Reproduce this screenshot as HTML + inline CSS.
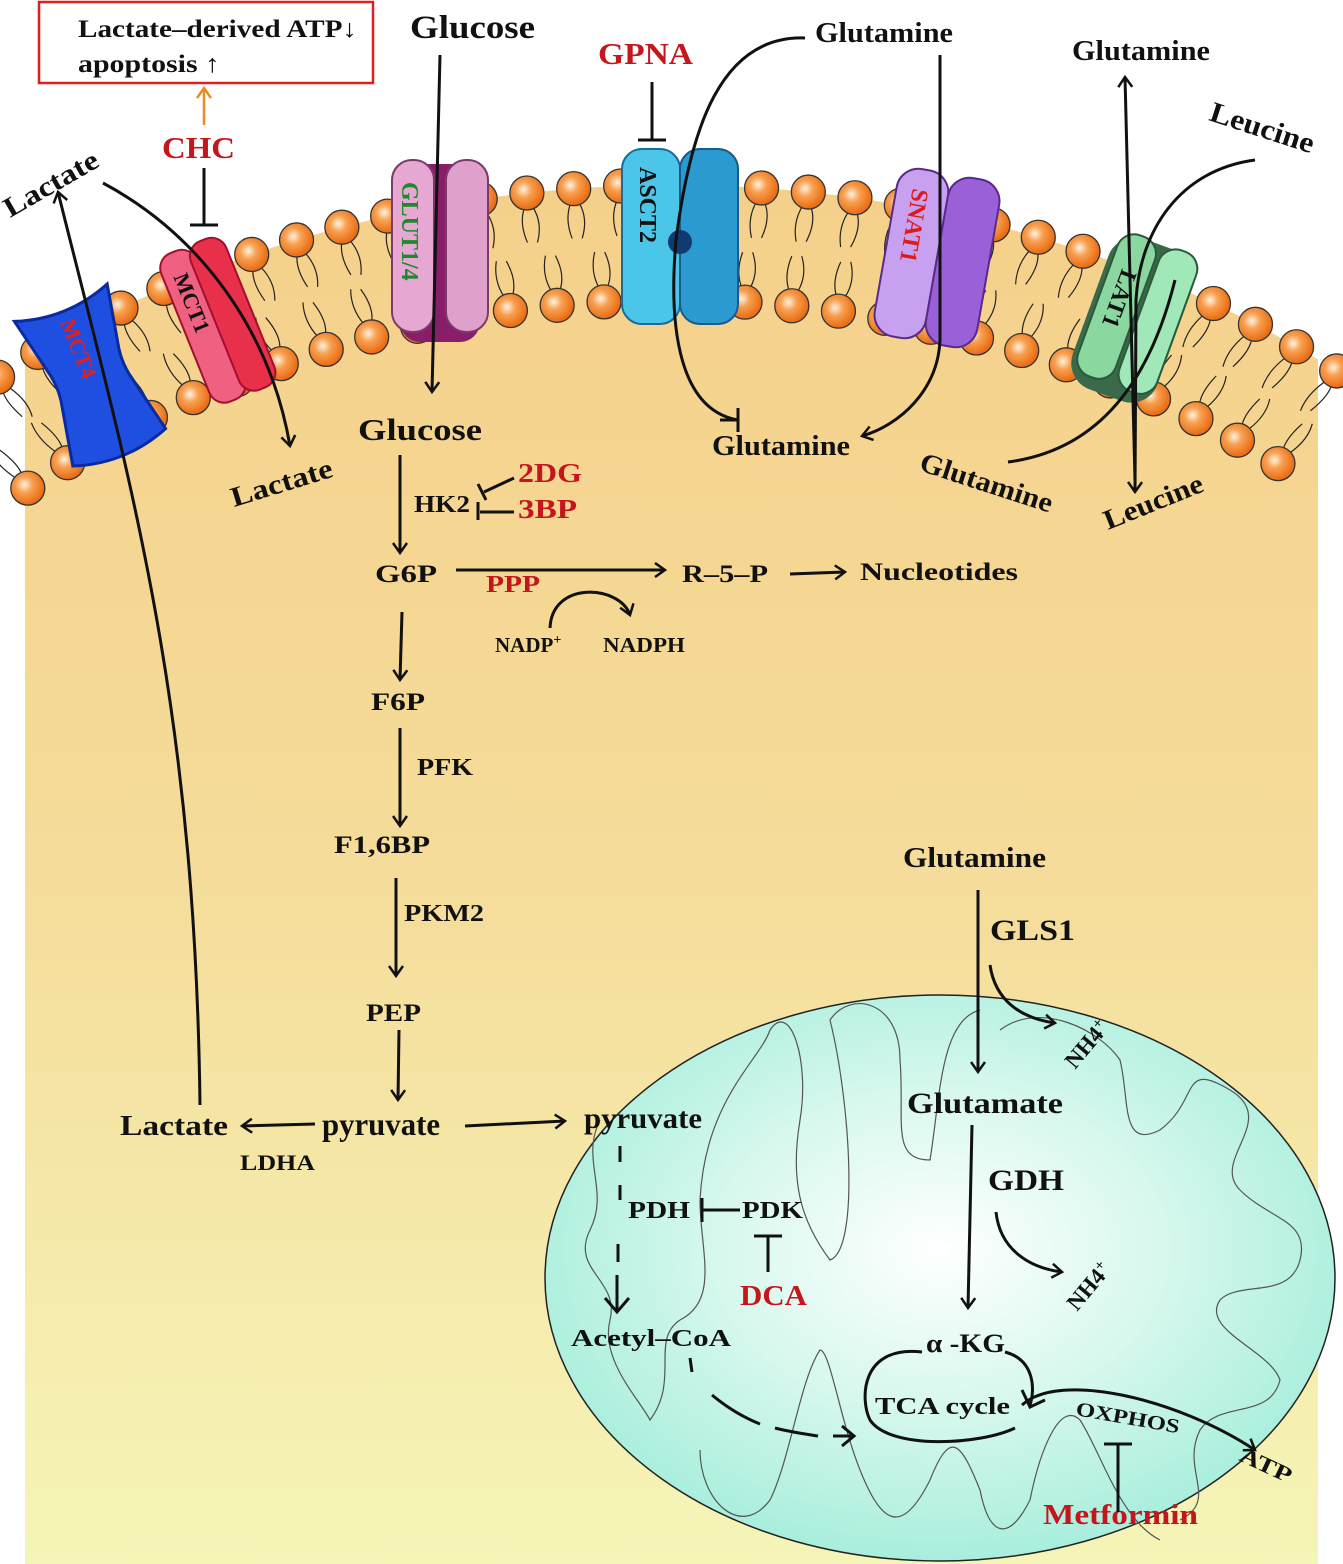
<!DOCTYPE html>
<html><head><meta charset="utf-8"><style>
html,body{margin:0;padding:0;background:#fff;width:1343px;height:1564px;overflow:hidden}
svg{display:block}
text{font-family:"Liberation Serif",serif;font-weight:bold;fill:#111}
.r{fill:#c4161c}
</style></head><body>
<svg id="s" width="1343" height="1564" viewBox="0 0 1343 1564" xmlns="http://www.w3.org/2000/svg">
<defs>
<linearGradient id="cell" gradientUnits="userSpaceOnUse" x1="0" y1="180" x2="0" y2="1564">
<stop offset="0" stop-color="#f5d08a"/><stop offset="0.5" stop-color="#f5dc9a"/><stop offset="1" stop-color="#f5f5b8"/></linearGradient>
<radialGradient id="mito" cx="0.5" cy="0.45" r="0.55"><stop offset="0" stop-color="#ffffff"/><stop offset="0.5" stop-color="#d8f8ee"/><stop offset="1" stop-color="#a8eedc"/></radialGradient>
<radialGradient id="ball" cx="0.4" cy="0.4" r="0.6"><stop offset="0" stop-color="#fff2e0"/><stop offset="0.4" stop-color="#f8a050"/><stop offset="1" stop-color="#e86a10"/></radialGradient>
<marker id="a" markerWidth="16" markerHeight="16" refX="11" refY="8" orient="auto" markerUnits="userSpaceOnUse"><path d="M1,1 L11,8 L1,15" fill="none" stroke="#111" stroke-width="2.5"/></marker>
<marker id="ao" markerWidth="16" markerHeight="16" refX="11" refY="8" orient="auto" markerUnits="userSpaceOnUse"><path d="M1,1 L11,8 L1,15" fill="none" stroke="#f08a20" stroke-width="2.5"/></marker>
<clipPath id="cc"><rect x="25" y="0" width="1293" height="1564"/></clipPath>
</defs>
<g clip-path="url(#cc)">
<path d="M-428,1100 A1100,915 0 0 1 1772,1100 L1772,1564 L-428,1564 Z" fill="url(#cell)"/>
</g>
<g id="mem"></g>

<!-- mitochondrion -->
<ellipse cx="940" cy="1278" rx="395" ry="283" fill="url(#mito)" stroke="#222" stroke-width="1.5"/>
<path d="M600,1120 C580,1160 610,1190 590,1230 C570,1270 620,1280 610,1320 C600,1360 640,1400 650,1420 C680,1380 650,1340 680,1320 C720,1300 700,1250 700,1200 C705,1100 760,1060 770,1030 C790,1000 810,1060 800,1120 C790,1180 800,1220 830,1260 C860,1250 850,1100 830,1020 C850,990 900,1000 900,1060 C905,1120 890,1160 930,1160 C940,1100 940,1020 980,1010 M1000,1030 C1040,1000 1100,1030 1120,1060 C1130,1100 1120,1150 1160,1130 C1200,1100 1180,1060 1230,1090 C1280,1120 1210,1160 1240,1190 C1270,1220 1310,1220 1300,1260 C1290,1300 1240,1280 1220,1300 C1200,1330 1270,1350 1280,1380 C1270,1420 1220,1400 1200,1430 C1180,1470 1220,1500 1180,1520 M1160,1540 C1120,1520 1100,1450 1080,1420 C1060,1400 1040,1450 1030,1500 C1010,1540 990,1540 980,1490 C960,1440 950,1430 930,1480 C900,1540 880,1520 860,1470 C840,1420 830,1350 820,1350 C800,1380 790,1460 770,1500 C740,1540 700,1500 700,1450" fill="none" stroke="#555" stroke-width="1.2"/>

<!-- transporters -->
<g transform="translate(90,375) rotate(-22)">
<path d="M-50,-78 Q0,-60 50,-78 L38,-20 Q33,0 38,20 L50,78 Q0,96 -50,78 L-38,20 Q-33,0 -38,-20 Z" fill="#1f4fe0" stroke="#0a2aa0" stroke-width="3"/>
<text transform="translate(-8,-60) rotate(90)" font-size="22" style="fill:#e02020">MCT4</text></g>
<g transform="translate(218,318) rotate(-22)">
<rect x="-36" y="-78" width="38" height="160" rx="16" fill="#f06080" stroke="#a01030" stroke-width="2"/>
<rect x="-4" y="-78" width="38" height="160" rx="16" fill="#e8304a" stroke="#a01030" stroke-width="2"/>
<text transform="translate(-26,-55) rotate(90)" font-size="22">MCT1</text></g>
<g transform="translate(440,252)">
<rect x="-40" y="-88" width="80" height="178" rx="20" fill="#8a1d6a"/>
<rect x="-48" y="-92" width="42" height="172" rx="20" fill="#e6a8d2" stroke="#7a3a6a" stroke-width="2"/>
<rect x="6" y="-92" width="42" height="172" rx="20" fill="#e0a0cc" stroke="#7a3a6a" stroke-width="2"/>
<text transform="translate(-38,-70) rotate(90)" font-size="24" style="fill:#1a8a2a">GLUT1/4</text></g>
<g transform="translate(680,237)">
<rect x="-58" y="-88" width="58" height="175" rx="20" fill="#4cc6e8" stroke="#1a6a9a" stroke-width="2"/>
<rect x="0" y="-88" width="58" height="175" rx="20" fill="#2a9ad0" stroke="#1a5a8a" stroke-width="2"/>
<circle cx="0" cy="5" r="12" fill="#103a70"/>
<text transform="translate(-40,-70) rotate(90)" font-size="24">ASCT2</text></g>
<g transform="translate(937,258) rotate(10)">
<rect x="-52" y="-85" width="52" height="170" rx="22" fill="#c8a0f0" stroke="#5a2a8a" stroke-width="2"/>
<rect x="0" y="-85" width="52" height="170" rx="22" fill="#9a60d8" stroke="#5a2a8a" stroke-width="2"/>
<text transform="translate(-36,-65) rotate(90)" font-size="24" style="fill:#e01a1a">SNAT1</text></g>
<g transform="translate(1133,320) rotate(20)">
<rect x="-45" y="-80" width="90" height="160" rx="28" fill="#3a6a4a"/>
<rect x="-40" y="-82" width="40" height="150" rx="18" fill="#8ad8a0" stroke="#2a5a3a" stroke-width="2"/>
<rect x="4" y="-82" width="40" height="150" rx="18" fill="#a0e8b8" stroke="#2a5a3a" stroke-width="2"/>
<text transform="translate(-28,-45) rotate(90)" font-size="24">LAT1</text></g>

<!-- top box -->
<rect x="39" y="2" width="334" height="81" fill="none" stroke="#e02020" stroke-width="2.5"/>
<text x="78" y="37" font-size="25" textLength="279" lengthAdjust="spacingAndGlyphs">Lactate–derived ATP↓</text>
<text x="78" y="72" font-size="25" textLength="142" lengthAdjust="spacingAndGlyphs">apoptosis ↑</text>
<line x1="204" y1="125" x2="204" y2="88" stroke="#f08a20" stroke-width="2.5" marker-end="url(#ao)"/>
<text x="162" y="158" font-size="31" class="r" textLength="73" lengthAdjust="spacingAndGlyphs">CHC</text>
<g stroke="#111" stroke-width="3" fill="none">
<path d="M204,168 V225 M190,225 H218"/>
<path d="M652,82 V140 M638,140 H666"/>
</g>
<text x="410" y="38" font-size="33" textLength="125" lengthAdjust="spacingAndGlyphs">Glucose</text>
<text x="598" y="64" font-size="31" class="r" textLength="95" lengthAdjust="spacingAndGlyphs">GPNA</text>
<text x="815" y="42" font-size="29" textLength="138" lengthAdjust="spacingAndGlyphs">Glutamine</text>
<text x="1072" y="60" font-size="29" textLength="138" lengthAdjust="spacingAndGlyphs">Glutamine</text>
<text transform="translate(1208,120) rotate(18)" font-size="29" textLength="108" lengthAdjust="spacingAndGlyphs">Leucine</text>
<text transform="translate(10,218) rotate(-30)" font-size="28" textLength="105" lengthAdjust="spacingAndGlyphs">Lactate</text>
<text transform="translate(234,507) rotate(-17)" font-size="28" textLength="105" lengthAdjust="spacingAndGlyphs">Lactate</text>
<text x="358" y="440" font-size="31" textLength="124" lengthAdjust="spacingAndGlyphs">Glucose</text>
<text x="712" y="455" font-size="28" textLength="138" lengthAdjust="spacingAndGlyphs">Glutamine</text>
<text transform="translate(918,470) rotate(18)" font-size="28" textLength="138" lengthAdjust="spacingAndGlyphs">Glutamine</text>
<text transform="translate(1108,530) rotate(-22)" font-size="28" textLength="105" lengthAdjust="spacingAndGlyphs">Leucine</text>

<text x="414" y="512" font-size="24" textLength="56" lengthAdjust="spacingAndGlyphs">HK2</text>
<text x="518" y="482" font-size="27" class="r" textLength="64" lengthAdjust="spacingAndGlyphs">2DG</text>
<text x="518" y="518" font-size="27" class="r" textLength="59" lengthAdjust="spacingAndGlyphs">3BP</text>
<text x="375" y="582" font-size="25" textLength="62" lengthAdjust="spacingAndGlyphs">G6P</text>
<text x="486" y="592" font-size="24" class="r" textLength="54" lengthAdjust="spacingAndGlyphs">PPP</text>
<text x="682" y="582" font-size="25" textLength="86" lengthAdjust="spacingAndGlyphs">R–5–P</text>
<text x="860" y="580" font-size="25" textLength="158" lengthAdjust="spacingAndGlyphs">Nucleotides</text>
<text x="495" y="652" font-size="21">NADP<tspan font-size="14" dy="-8">+</tspan></text>
<text x="603" y="652" font-size="21" textLength="82" lengthAdjust="spacingAndGlyphs">NADPH</text>
<text x="371" y="710" font-size="25" textLength="54" lengthAdjust="spacingAndGlyphs">F6P</text>
<text x="417" y="775" font-size="24" textLength="56" lengthAdjust="spacingAndGlyphs">PFK</text>
<text x="334" y="853" font-size="25" textLength="96" lengthAdjust="spacingAndGlyphs">F1,6BP</text>
<text x="404" y="921" font-size="24" textLength="80" lengthAdjust="spacingAndGlyphs">PKM2</text>
<text x="366" y="1021" font-size="25" textLength="55" lengthAdjust="spacingAndGlyphs">PEP</text>
<text x="322" y="1135" font-size="32" textLength="118" lengthAdjust="spacingAndGlyphs">pyruvate</text>
<text x="120" y="1135" font-size="28" textLength="108" lengthAdjust="spacingAndGlyphs">Lactate</text>
<text x="240" y="1170" font-size="22" textLength="75" lengthAdjust="spacingAndGlyphs">LDHA</text>

<text x="584" y="1128" font-size="30" textLength="118" lengthAdjust="spacingAndGlyphs">pyruvate</text>
<text x="628" y="1218" font-size="24" textLength="62" lengthAdjust="spacingAndGlyphs">PDH</text>
<text x="742" y="1218" font-size="24" textLength="61" lengthAdjust="spacingAndGlyphs">PDK</text>
<text x="740" y="1305" font-size="28" class="r" textLength="67" lengthAdjust="spacingAndGlyphs">DCA</text>
<text x="571" y="1346" font-size="24" textLength="160" lengthAdjust="spacingAndGlyphs">Acetyl–CoA</text>
<text x="875" y="1414" font-size="24" textLength="135" lengthAdjust="spacingAndGlyphs">TCA cycle</text>
<text x="926" y="1352" font-size="26" textLength="79" lengthAdjust="spacingAndGlyphs">α -KG</text>
<text transform="translate(1075,1415) rotate(10)" font-size="20" textLength="105" lengthAdjust="spacingAndGlyphs">OXPHOS</text>
<text transform="translate(1238,1460) rotate(25)" font-size="22" textLength="55" lengthAdjust="spacingAndGlyphs">ATP</text>
<text x="1043" y="1524" font-size="28" class="r" textLength="155" lengthAdjust="spacingAndGlyphs">Metformin</text>
<text x="903" y="867" font-size="28" textLength="143" lengthAdjust="spacingAndGlyphs">Glutamine</text>
<text x="990" y="940" font-size="30" textLength="85" lengthAdjust="spacingAndGlyphs">GLS1</text>
<text transform="translate(1075,1070) rotate(-50)" font-size="23">NH4<tspan font-size="15" dy="-8">+</tspan></text>
<text x="907" y="1113" font-size="30" textLength="156" lengthAdjust="spacingAndGlyphs">Glutamate</text>
<text x="988" y="1190" font-size="30" textLength="76" lengthAdjust="spacingAndGlyphs">GDH</text>
<text transform="translate(1077,1312) rotate(-50)" font-size="23">NH4<tspan font-size="15" dy="-8">+</tspan></text>

<g stroke="#111" stroke-width="3" fill="none">
<path d="M440,55 L432,392" marker-end="url(#a)"/>
<path d="M400,455 L400,553" marker-end="url(#a)"/>
<path d="M514,478 L484,492 M478,484 L486,500"/>
<path d="M514,512 L480,512 M478,502 L478,520"/>
<path d="M456,570 L665,570" marker-end="url(#a)"/>
<path d="M790,574 L845,572" marker-end="url(#a)"/>
<path d="M550,628 C552,580 620,585 630,615" marker-end="url(#a)"/>
<path d="M402,612 L400,680" marker-end="url(#a)"/>
<path d="M400,728 L400,826" marker-end="url(#a)"/>
<path d="M396,878 L396,976" marker-end="url(#a)"/>
<path d="M399,1030 L398,1100" marker-end="url(#a)"/>
<path d="M315,1124 L242,1126" marker-end="url(#a)"/>
<path d="M465,1126 L565,1121" marker-end="url(#a)"/>
<path d="M200,1105 C195,700 130,480 58,192" marker-end="url(#a)"/>
<path d="M103,183 C200,235 270,330 290,446" marker-end="url(#a)"/>
<path d="M805,38 C720,35 690,130 676,240 C668,330 680,410 738,420" />
<path d="M738,408 V432 M720,420 H738"/>
<path d="M940,55 L940,340 C938,390 900,425 862,436" marker-end="url(#a)"/>
<path d="M1135,480 L1125,77" marker-end="url(#a)"/>
<path d="M1255,160 C1180,170 1140,230 1136,300 L1135,492" marker-end="url(#a)"/>
<path d="M1008,462 C1100,450 1150,380 1175,280"/>
<path d="M978,890 L978,1072" marker-end="url(#a)"/>
<path d="M990,965 C995,1000 1020,1018 1055,1023" marker-end="url(#a)"/>
<path d="M972,1125 L968,1308" marker-end="url(#a)"/>
<path d="M996,1212 C1000,1250 1030,1268 1062,1272" marker-end="url(#a)"/>
<path d="M740,1210 L702,1210 M702,1198 V1222"/>
<path d="M768,1272 L768,1236 M754,1236 H782"/>
<path d="M620,1146 V1162 M620,1185 V1200 M618,1244 V1262 M617,1275 L617,1310" />
<path d="M605,1298 L617,1312 L629,1298"/>
<path d="M690,1358 L692,1372 M712,1395 C730,1410 745,1418 760,1424 M775,1428 C790,1432 805,1434 818,1436 M833,1436 L852,1436" />
<path d="M842,1426 L854,1436 L842,1446"/>
<path d="M922,1352 C860,1345 860,1400 870,1420 C890,1450 980,1445 1015,1428"/>
<path d="M1005,1352 C1035,1360 1035,1390 1030,1405 M1022,1390 L1030,1407 L1045,1400"/>
<path d="M1022,1405 C1060,1370 1180,1400 1255,1450" marker-end="url(#a)"/>
<path d="M1118,1512 L1118,1444 M1104,1444 H1132"/>
</g>
</svg>
<script>
(function(){
var g=document.getElementById('mem'),h='';
function row(rx,ry,t0,t1,dir){
 var cx=672,cy=1100,t=t0;
 while(t<=t1){
  var x=cx+rx*Math.sin(t),y=cy-ry*Math.cos(t);
  var nx=Math.sin(t),ny=-Math.cos(t);
  var L=50*dir;
  var x2=x-nx*L,y2=y-ny*L;
  h+='<path d="M'+(x-nx*14*dir+4)+','+(y-ny*14*dir)+' Q'+(x-nx*30*dir+12)+','+(y-ny*30*dir)+' '+(x2+4)+','+y2+'" fill="none" stroke="#222" stroke-width="1.2"/>';
  h+='<path d="M'+(x-nx*14*dir-4)+','+(y-ny*14*dir)+' Q'+(x-nx*30*dir-12)+','+(y-ny*30*dir)+' '+(x2-6)+','+y2+'" fill="none" stroke="#222" stroke-width="1.2"/>';
  h+='<circle cx="'+x+'" cy="'+y+'" r="17" fill="url(#ball)" stroke="#333" stroke-width="1.3"/>';
  var d=47/Math.sqrt(Math.pow(rx*Math.cos(t),2)+Math.pow(ry*Math.sin(t),2));
  t+=d;
 }
}
row(1100,915,-0.66,0.66,1);
row(1000,800,-0.7,0.7,-1);
g.innerHTML=h;
})();
</script>
</body></html>
